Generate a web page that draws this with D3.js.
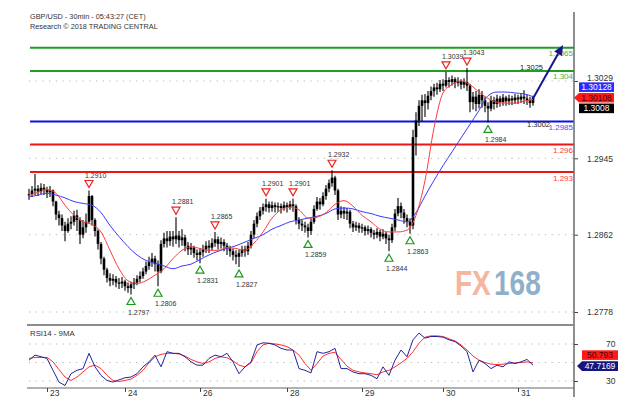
<!DOCTYPE html>
<html><head><meta charset="utf-8">
<script src="https://cdn.jsdelivr.net/npm/d3@7"></script>
<style>body{margin:0;background:#fff}svg{display:block;font-family:"Liberation Sans",Arial,sans-serif}</style>
</head><body><svg id="c" width="626" height="415"></svg>
<script>
// ---------- DATA ----------
const close = [
1.2906,1.2910,1.2912,1.2909,1.2913,1.2911,1.2908,1.2910,1.2898,1.2884,
1.2880,1.2872,1.2866,1.2874,1.2876,1.2883,1.2878,1.2862,1.2870,1.2876,
1.2904,1.2878,1.2866,1.2852,1.2836,1.2824,1.2815,1.2812,1.2814,1.2810,
1.2809,1.2811,1.2806,1.2804,1.2808,1.2810,1.2814,1.2817,1.2822,1.2828,
1.2832,1.2836,1.2830,1.2822,1.2852,1.2858,1.2855,1.2860,1.2857,1.2861,
1.2856,1.2859,1.2850,1.2846,1.2848,1.2842,1.2840,1.2843,1.2846,1.2850,
1.2848,1.2853,1.2857,1.2852,1.2854,1.2850,1.2847,1.2844,1.2840,1.2838,
1.2842,1.2846,1.2844,1.2850,1.2862,1.2874,1.2882,1.2888,1.2892,1.2895,
1.2891,1.2894,1.2892,1.2893,1.2891,1.2894,1.2892,1.2895,1.2893,1.2878,
1.2874,1.2872,1.2870,1.2866,1.2876,1.2890,1.2898,1.2895,1.2904,1.2912,
1.2918,1.2924,1.2910,1.2884,1.2888,1.2885,1.2887,1.2874,1.2870,1.2872,
1.2869,1.2870,1.2866,1.2868,1.2864,1.2862,1.2865,1.2860,1.2863,1.2858,
1.2856,1.2870,1.2885,1.2893,1.2886,1.2880,1.2876,1.2872,1.2968,1.2986,
1.3002,1.3008,1.3005,1.3013,1.3018,1.3022,1.3020,1.3026,1.3024,1.3030,
1.3028,1.3031,1.3027,1.3029,1.3025,1.3028,1.3024,1.3006,1.3012,1.3004,
1.3014,1.3008,1.3002,1.2999,1.3008,1.3004,1.3010,1.3006,1.3011,1.3007,
1.3010,1.3008,1.3011,1.3009,1.3012,1.3010,1.3008,1.3005,1.3011];
const high = [
1.2912,1.2915,1.2928,1.2916,1.2918,1.2917,1.2914,1.2915,1.2911,1.2899,
1.2888,1.2884,1.2876,1.2880,1.2882,1.2888,1.2889,1.2881,1.2878,1.2885,
1.2910,1.2905,1.2880,1.2868,1.2854,1.2838,1.2826,1.2820,1.2819,1.2817,
1.2815,1.2816,1.2813,1.2810,1.2811,1.2815,1.2818,1.2822,1.2826,1.2833,
1.2838,1.2842,1.2839,1.2834,1.2856,1.2864,1.2866,1.2866,1.2866,1.2881,
1.2866,1.2868,1.2862,1.2854,1.2853,1.2850,1.2846,1.2847,1.2851,1.2855,
1.2856,1.2858,1.2865,1.2860,1.2859,1.2857,1.2853,1.2850,1.2847,1.2845,
1.2846,1.2850,1.2850,1.2854,1.2866,1.2878,1.2886,1.2892,1.2896,1.2901,
1.2898,1.2898,1.2897,1.2897,1.2896,1.2898,1.2897,1.2899,1.2901,1.2895,
1.2881,1.2878,1.2876,1.2874,1.2880,1.2894,1.2903,1.2902,1.2908,1.2916,
1.2922,1.2932,1.2926,1.2912,1.2893,1.2892,1.2891,1.2889,1.2877,1.2876,
1.2875,1.2874,1.2872,1.2872,1.2870,1.2867,1.2869,1.2867,1.2868,1.2865,
1.2862,1.2874,1.2890,1.2902,1.2897,1.2890,1.2884,1.2880,1.2976,1.2995,
1.3008,1.3014,1.3015,1.3018,1.3023,1.3026,1.3027,1.3030,1.3031,1.3039,
1.3033,1.3035,1.3033,1.3033,1.3031,1.3032,1.3043,1.3026,1.3017,1.3018,
1.3020,1.3018,1.3012,1.3006,1.3013,1.3012,1.3014,1.3013,1.3015,1.3013,
1.3014,1.3013,1.3015,1.3014,1.3016,1.3019,1.3014,1.3012,1.3013];
const low = [
1.2900,1.2903,1.2905,1.2904,1.2906,1.2905,1.2902,1.2903,1.2893,1.2878,
1.2872,1.2866,1.2855,1.2864,1.2868,1.2872,1.2866,1.2852,1.2858,1.2864,
1.2874,1.2872,1.2860,1.2846,1.2830,1.2818,1.2810,1.2806,1.2807,1.2805,
1.2803,1.2804,1.2801,1.2799,1.2797,1.2803,1.2807,1.2810,1.2814,1.2819,
1.2824,1.2827,1.2822,1.2806,1.2820,1.2848,1.2848,1.2850,1.2849,1.2852,
1.2848,1.2850,1.2844,1.2840,1.2840,1.2837,1.2834,1.2831,1.2838,1.2842,
1.2842,1.2845,1.2849,1.2846,1.2847,1.2844,1.2840,1.2838,1.2834,1.2830,
1.2827,1.2838,1.2838,1.2840,1.2847,1.2858,1.2870,1.2878,1.2884,1.2887,
1.2886,1.2887,1.2886,1.2887,1.2885,1.2888,1.2886,1.2889,1.2887,1.2873,
1.2868,1.2866,1.2864,1.2859,1.2862,1.2874,1.2888,1.2889,1.2893,1.2900,
1.2908,1.2914,1.2905,1.2878,1.2880,1.2879,1.2878,1.2869,1.2865,1.2866,
1.2864,1.2864,1.2861,1.2862,1.2859,1.2857,1.2858,1.2855,1.2857,1.2852,
1.2844,1.2853,1.2866,1.2882,1.2880,1.2874,1.2870,1.2863,1.2868,1.2948,
1.2980,1.2985,1.2990,1.2998,1.3008,1.3012,1.3014,1.3017,1.3018,1.3022,
1.3022,1.3024,1.3021,1.3023,1.3020,1.3021,1.3018,1.2995,1.2998,1.2996,
1.2999,1.3000,1.2995,1.2984,1.2996,1.2998,1.3000,1.3001,1.3002,1.3002,
1.3003,1.3003,1.3004,1.3004,1.3005,1.3004,1.3003,1.3000,1.3002];
// moving averages sampled every 3 bars
const maStep = 3;
const maFast = [
1.2905,1.2908,1.2911,1.2907,1.2894,1.2883,1.2876,1.2873,1.2865,1.2845,
1.2825,1.2812,1.2809,1.2812,1.2818,1.2825,1.2836,1.2845,1.2849,1.2847,
1.2845,1.2845,1.2848,1.2847,1.2845,1.2853,1.2865,1.2880,1.2889,1.2892,
1.2889,1.2880,1.2881,1.2886,1.2895,1.2899,1.2893,1.2883,1.2876,1.2868,
1.2865,1.2865,1.2867,1.2883,1.2921,1.2978,1.3016,1.3025,1.3029,1.3025,
1.3017,1.3010,1.3006,1.3005,1.3005,1.3007,1.3009];
const maSlow = [
1.2903,1.2905,1.2907,1.2905,1.2902,1.2898,1.2896,1.2894,1.2886,1.2872,
1.2860,1.2849,1.2840,1.2834,1.2831,1.2828,1.2825,1.2828,1.2830,1.2835,
1.2840,1.2844,1.2847,1.2850,1.2854,1.2858,1.2862,1.2868,1.2872,1.2876,
1.2878,1.2880,1.2882,1.2885,1.2890,1.2891,1.2890,1.2887,1.2885,1.2882,
1.2880,1.2878,1.2876,1.2886,1.2904,1.2921,1.2937,1.2952,1.2967,1.2982,
1.2997,1.3013,1.3017,1.3017,1.3016,1.3015,1.3012];
// RSI sampled every 2 bars
const rsiStep = 2;
const rsi14 = [
52.5,58.0,56.2,54.4,41.6,28.8,25.2,37.9,41.6,43.4,
59.9,45.3,36.1,30.6,28.8,31.2,33.5,34.3,37.9,45.3,
50.7,58.0,45.3,61.7,59.9,59.9,56.2,50.7,47.1,47.1,
54.4,58.0,56.2,59.9,50.7,37.9,45.3,50.7,69.0,71.3,
70.8,69.0,65.3,63.5,63.5,43.4,41.6,38.7,61.7,59.9,
61.7,65.3,43.4,43.4,39.8,37.9,37.9,36.1,32.5,45.3,
36.1,52.5,63.5,56.2,74.5,81.8,76.3,78.1,78.1,77.4,
74.5,72.6,67.9,61.7,39.8,52.5,48.9,43.4,47.1,45.3,
50.7,48.9,50.7,53.3,47.1];
const rsiMa = [
54.4,55.5,55.5,55.5,50.7,42.3,34.3,30.6,34.3,39.8,
45.3,47.1,43.4,36.1,30.6,29.5,30.6,32.1,36.1,41.6,
49.6,56.2,58.8,59.9,59.9,59.2,57.0,53.3,50.7,48.9,
50.7,54.4,56.2,55.1,51.8,47.1,45.3,49.6,61.7,69.0,
70.8,70.1,69.0,67.2,63.5,58.0,48.9,41.6,48.9,57.0,
59.9,61.0,53.3,46.0,41.6,39.8,38.7,37.9,36.8,39.8,
41.6,45.3,49.6,54.4,61.7,70.8,77.4,78.8,78.8,78.1,
75.6,73.4,69.0,63.5,57.0,52.5,50.0,48.2,47.8,48.2,
48.9,49.6,50.0,50.7,49.6];
const dayTickBars = [6, 32, 57, 86, 111, 138, 163];
const dayTickLabels = ["23","24","26","28","29","30","31"];
const priceTicks = [1.3029, 1.2945, 1.2862, 1.2778];
const rsiTicks = [70, 30];
const rsiGrid = [70, 50, 30];
const levelValues = [1.3065, 1.304, 1.2985, 1.296, 1.293];
const levelLabels = ["1.3065", "1.304", "1.2985", "1.296", "1.293"];
const levelKinds = ["res", "res", "pivot", "sup", "sup"];
const highBars = [20, 49, 62, 79, 88, 101, 139, 146];
const highValues = [1.2910, 1.2881, 1.2865, 1.2901, 1.2901, 1.2932, 1.3039, 1.3043];
const lowBars = [34, 43, 57, 70, 93, 120, 127, 153];
const lowValues = [1.2797, 1.2806, 1.2831, 1.2827, 1.2859, 1.2844, 1.2863, 1.2984];
const noteLabels = ["1.3025", "1.3002"];
const priceBoxLabels = ["1.30128", "1.30108", "1.3008"];
const priceBoxValues = [1.30128, 1.30108, 1.3008];
const rsiBoxLabels = ["50.793", "47.7169"];
const rsiBoxValues = [50.793, 47.7169];
const arrowBars = [168, 178];
const arrowValues = [1.3010, 1.3068];
const titleLines = ["GBP/USD - 30min - 05:43:27 (CET)", "Research \u00A9 2018 TRADING CENTRAL"];
const rsiTitle = "RSI14 - 9MA";
const watermarkParts = ["FX", "168"];

// ---------- DRAW ----------
const svg = d3.select("#c");
const n = close.length;
const X = d3.scaleLinear().domain([0, n - 1]).range([29, 533]);
const Y = d3.scaleLinear().domain([1.2778, 1.3029]).range([312, 81]);
const R = d3.scaleLinear().domain([30, 70]).range([381, 344]);
const axisX = 574;
const levelColor = {res: "#1f9e1f", pivot: "#1010e6", sup: "#ee1515"};
const levelText = {res: "#4fae4f", pivot: "#4b4bff", sup: "#ff3a3a"};

// header
svg.selectAll("text.title").data(titleLines).join("text")
  .attr("x", 30).attr("y", (d, i) => 19 + i * 10)
  .attr("font-size", 7.3).attr("fill", "#333").text(d => d);

// watermark (two separate words, vertically stretched)
const wmG = svg.append("g").attr("transform", "translate(455,295) scale(1,1.25)");
wmG.append("text").attr("x", 0).attr("y", 0).attr("font-size", 28).attr("font-weight", "bold")
  .attr("fill", "#f6b59e").text(watermarkParts[0]);
wmG.append("text").attr("x", 39).attr("y", 0).attr("font-size", 28).attr("font-weight", "bold")
  .attr("fill", "#8fb0c8").text(watermarkParts[1]);

// price gridlines
svg.append("g").selectAll("line").data(priceTicks).join("line")
  .attr("x1", 29).attr("x2", axisX).attr("y1", d => Y(d)).attr("y2", d => Y(d))
  .attr("stroke", "#b5b5b5").attr("stroke-dasharray", "1.2,5.5");

// level lines
const lv = svg.append("g");
lv.selectAll("line").data(levelValues).join("line")
  .attr("x1", 30).attr("x2", axisX).attr("y1", d => Y(d)).attr("y2", d => Y(d))
  .attr("stroke", (d, i) => levelColor[levelKinds[i]]).attr("stroke-width", 2);
lv.selectAll("text").data(levelValues).join("text")
  .attr("x", axisX - 1).attr("y", d => Y(d) + 8.5).attr("text-anchor", "end")
  .attr("font-size", 8).attr("fill", (d, i) => levelText[levelKinds[i]])
  .text((d, i) => levelLabels[i]);
// extra notes next to levels
svg.append("text").attr("x", 543).attr("y", Y(levelValues[1]) - 1).attr("text-anchor", "end")
  .attr("font-size", 7.5).attr("fill", "#222").text(noteLabels[0]);
svg.append("text").attr("x", 550).attr("y", Y(levelValues[2]) + 6).attr("text-anchor", "end")
  .attr("font-size", 7.5).attr("fill", "#222").text(noteLabels[1]);

// candles
const cg = svg.append("g");
const bars = d3.range(n).map(i => {
  const o = i > 0 ? close[i - 1] : close[0];
  return {i, o, c: close[i], h: Math.max(high[i], o, close[i]), l: Math.min(low[i], o, close[i])};
});
cg.selectAll("line").data(bars).join("line")
  .attr("x1", d => X(d.i)).attr("x2", d => X(d.i))
  .attr("y1", d => Y(d.h)).attr("y2", d => Y(d.l)).attr("stroke", "#000").attr("stroke-width", 1.1);
cg.selectAll("rect").data(bars).join("rect")
  .attr("x", d => X(d.i) - 1.3).attr("width", 2.6)
  .attr("y", d => Y(Math.max(d.o, d.c)))
  .attr("height", d => Math.max(1.2, Math.abs(Y(d.o) - Y(d.c))))
  .attr("fill", "#000");

// moving averages
const maLine = d3.line().x((d, i) => X(i * maStep)).y(d => Y(d)).curve(d3.curveMonotoneX);
svg.append("path").attr("d", maLine(maSlow)).attr("fill", "none").attr("stroke", "#3a3aff").attr("stroke-width", 1);
svg.append("path").attr("d", maLine(maFast)).attr("fill", "none").attr("stroke", "#ff3a3a").attr("stroke-width", 1);

// high / low markers
const hm = svg.append("g");
highBars.forEach((b, k) => {
  const cx = X(b), yy = Y(highValues[k]);
  hm.append("path").attr("d", `M${cx - 4},${yy - 10}L${cx + 4},${yy - 10}L${cx},${yy - 3}Z`)
    .attr("fill", "#fff").attr("stroke", "#ee2222").attr("stroke-width", 1.2);
  hm.append("text").attr("x", cx - 4).attr("y", yy - 13).attr("font-size", 7).attr("fill", "#333")
    .text(highValues[k].toFixed(4));
});
lowBars.forEach((b, k) => {
  const cx = X(b), yy = Y(lowValues[k]);
  hm.append("path").attr("d", `M${cx - 4},${yy + 10}L${cx + 4},${yy + 10}L${cx},${yy + 3}Z`)
    .attr("fill", "#fff").attr("stroke", "#1e9a1e").attr("stroke-width", 1.2);
  hm.append("text").attr("x", cx - 3).attr("y", yy + 20).attr("font-size", 7).attr("fill", "#333")
    .text(lowValues[k].toFixed(4));
});

// forecast arrow
const ax0 = X(arrowBars[0]), ay0 = Y(arrowValues[0]), ax1 = X(arrowBars[1]), ay1 = Y(arrowValues[1]);
const ang = Math.atan2(ay1 - ay0, ax1 - ax0);
const hl = 10, hw = 4.5;
const bx = ax1 - hl * Math.cos(ang), by = ay1 - hl * Math.sin(ang);
svg.append("line").attr("x1", ax0).attr("y1", ay0).attr("x2", bx).attr("y2", by)
  .attr("stroke", "#17178c").attr("stroke-width", 2);
svg.append("path").attr("fill", "#17178c")
  .attr("d", `M${ax1},${ay1}L${bx - hw * Math.sin(ang)},${by + hw * Math.cos(ang)}L${bx + hw * Math.sin(ang)},${by - hw * Math.cos(ang)}Z`);

// right price axis
const ya = svg.append("g").attr("transform", `translate(${axisX},0)`)
  .call(d3.axisRight(Y).tickValues(priceTicks).tickSize(4).tickPadding(9).tickFormat(d3.format(".4f")));
ya.select(".domain").remove();
ya.selectAll("line").attr("stroke", "#444");
ya.selectAll("text").attr("font-size", 8.5).attr("fill", "#333").attr("font-family", "Liberation Sans, Arial");
ya.selectAll("text").filter(d => d === priceTicks[0]).attr("dy", "-0.1em");
svg.append("line").attr("x1", axisX).attr("x2", axisX).attr("y1", 12).attr("y2", 397)
  .attr("stroke", "#6a6a6a").attr("stroke-width", 1.5);

// price value boxes (stacked around last price)
const pMid = Y(priceBoxValues[1]);
const pCy = [pMid - 10.6, pMid, pMid + 10.6];
const pFill = ["#2a2aff", "#ff1a1a", "#000"];
const pTxt = ["#fff", "#4a0000", "#fff"];
priceBoxLabels.forEach((t, k) => {
  const cy = pCy[k];
  if (k === 1) {
    svg.append("path").attr("d", `M${axisX},${cy}L${579},${cy - 4.8}L614,${cy - 4.8}L614,${cy + 4.8}L579,${cy + 4.8}Z`).attr("fill", pFill[k]);
  } else {
    svg.append("rect").attr("x", 579).attr("y", cy - 4.8).attr("width", 35).attr("height", 9.6).attr("fill", pFill[k]);
  }
  svg.append("text").attr("x", 596.5).attr("y", cy + 3).attr("text-anchor", "middle")
    .attr("font-size", 8.5).attr("fill", pTxt[k]).text(t);
});

// ---------- RSI panel ----------
svg.append("line").attr("x1", 27).attr("x2", axisX).attr("y1", 325).attr("y2", 325)
  .attr("stroke", "#8c8c8c").attr("stroke-width", 2.2);
svg.append("text").attr("x", 30).attr("y", 335.5).attr("font-size", 7.8).attr("fill", "#333").text(rsiTitle);
svg.append("g").selectAll("line").data(rsiGrid).join("line")
  .attr("x1", 29).attr("x2", axisX).attr("y1", d => R(d)).attr("y2", d => R(d))
  .attr("stroke", "#b5b5b5").attr("stroke-dasharray", "1.2,5.5");
const rl = d3.line().x((d, i) => X(i * rsiStep)).y(d => R(d));
svg.append("path").attr("d", rl(rsiMa)).attr("fill", "none").attr("stroke", "#ff3030").attr("stroke-width", 1);
svg.append("path").attr("d", rl(rsi14)).attr("fill", "none").attr("stroke", "#24249c").attr("stroke-width", 1);

const ra = svg.append("g").attr("transform", `translate(${axisX},0)`)
  .call(d3.axisRight(R).tickValues(rsiTicks).tickSize(4).tickPadding(28));
ra.select(".domain").remove();
ra.selectAll("line").attr("stroke", "#444");
ra.selectAll("text").attr("font-size", 8.5).attr("fill", "#333").attr("font-family", "Liberation Sans, Arial");

// RSI boxes
const rB = R(rsiBoxValues[1]) + 1.5;
svg.append("rect").attr("x", 582).attr("y", rB - 11 - 4.8).attr("width", 36).attr("height", 9.6).attr("fill", "#ff1a1a");
svg.append("text").attr("x", 600).attr("y", rB - 11 + 3).attr("text-anchor", "middle").attr("font-size", 8.5).attr("fill", "#4a0000").text(rsiBoxLabels[0]);
svg.append("path").attr("d", `M${axisX + 3},${rB}L582,${rB - 4.8}L618,${rB - 4.8}L618,${rB + 4.8}L582,${rB + 4.8}Z`).attr("fill", "#15157e");
svg.append("text").attr("x", 600).attr("y", rB + 3).attr("text-anchor", "middle").attr("font-size", 8.5).attr("fill", "#fff").text(rsiBoxLabels[1]);

// bottom time axis
svg.append("line").attr("x1", 27).attr("x2", axisX).attr("y1", 388).attr("y2", 388).attr("stroke", "#666").attr("stroke-width", 1.2);
const xa = svg.append("g").attr("transform", "translate(0,388)")
  .call(d3.axisBottom(X).tickValues(dayTickBars).tickSize(4).tickFormat((d, i) => dayTickLabels[i]));
xa.select(".domain").remove();
xa.selectAll("line").attr("stroke", "#444");
xa.selectAll("text").attr("text-anchor", "start").attr("x", 2.5).attr("y", 2).attr("dy", "0.72em")
  .attr("font-size", 8.5).attr("fill", "#333").attr("font-family", "Liberation Sans, Arial");
</script></body></html>
